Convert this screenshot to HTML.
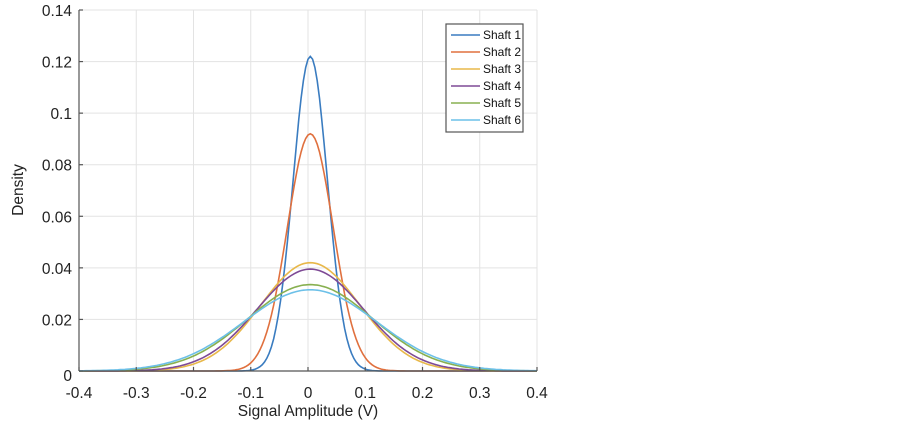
<!DOCTYPE html>
<html><head><meta charset="utf-8"><style>
body{margin:0;background:#fff;}
svg{display:block;font-family:"Liberation Sans",sans-serif;}
</style></head><body>
<svg id="s" width="903" height="429" xmlns="http://www.w3.org/2000/svg">
<rect width="903" height="429" fill="#fff"/>
<g id="grid" stroke="#e3e3e3" stroke-width="1"></g>
<g id="curves" fill="none" stroke-width="1.6"></g>
<g id="axes" stroke="#555" stroke-width="1.2" fill="#222" font-size="15.5"></g>
<text x="308" y="416" font-size="15.5" text-anchor="middle" fill="#222">Signal Amplitude (V)</text>
<text transform="translate(23,190) rotate(-90)" font-size="15.5" text-anchor="middle" fill="#222">Density</text>
<rect x="446" y="24" width="77" height="108" fill="#fff" stroke="#555" stroke-width="1.2"/>
<g id="leg" font-size="12" fill="#111"></g>
</svg>
<script>
var L=79,R=537,B=371,T=10;
function X(v){return L+(v+0.4)/0.8*(R-L);}
function Y(v){return B-v/0.14*(B-T);}
var ns="http://www.w3.org/2000/svg";
function el(p,t,a,txt){var e=document.createElementNS(ns,t);for(var k in a)e.setAttribute(k,a[k]);if(txt!=null)e.textContent=txt;document.getElementById(p).appendChild(e);}
for(var i=-4;i<=4;i++){var x=X(i/10);el('grid','line',{x1:x,x2:x,y1:T,y2:B});
 el('axes','line',{x1:x,x2:x,y1:B,y2:B-4});
 el('axes','text',{x:x,y:398,'text-anchor':'middle',stroke:'none'},i==0?'0':(i/10).toFixed(1));}
for(var j=0;j<=7;j++){var y=Y(j*0.02);el('grid','line',{x1:L,x2:R,y1:y,y2:y});
 el('axes','line',{x1:L,x2:L+4,y1:y,y2:y});
 el('axes','text',{x:L-7,y:(j==0?y+10:y+6),'text-anchor':'end',stroke:'none'},j==0?'0':(j*0.02).toFixed(2).replace(/0$/,''));}
el('axes','line',{x1:L,x2:L,y1:T,y2:B});el('axes','line',{x1:L,x2:R,y1:B,y2:B});
var S=[["#3a7cc0",0.122,0.03],["#e0703e",0.092,0.04],["#e8b84a",0.042,0.087],["#7e4a95",0.0395,0.093],["#88b050",0.0335,0.109],["#6cc0e8",0.0315,0.116]];
S.forEach(function(s,k){var d="";for(var v=-0.4;v<=0.4001;v+=0.004){var g=s[1]*Math.exp(-Math.pow(v-0.004,2)/(2*s[2]*s[2]));d+=(d?"L":"M")+X(v).toFixed(1)+","+Y(g).toFixed(1);}
 el('curves','path',{d:d,stroke:s[0]});
 var y=35+k*17;el('leg','line',{x1:451,x2:480,y1:y,y2:y,stroke:s[0],'stroke-width':1.6});
 el('leg','text',{x:483,y:y+4},"Shaft "+(k+1));});
</script>
</body></html>
